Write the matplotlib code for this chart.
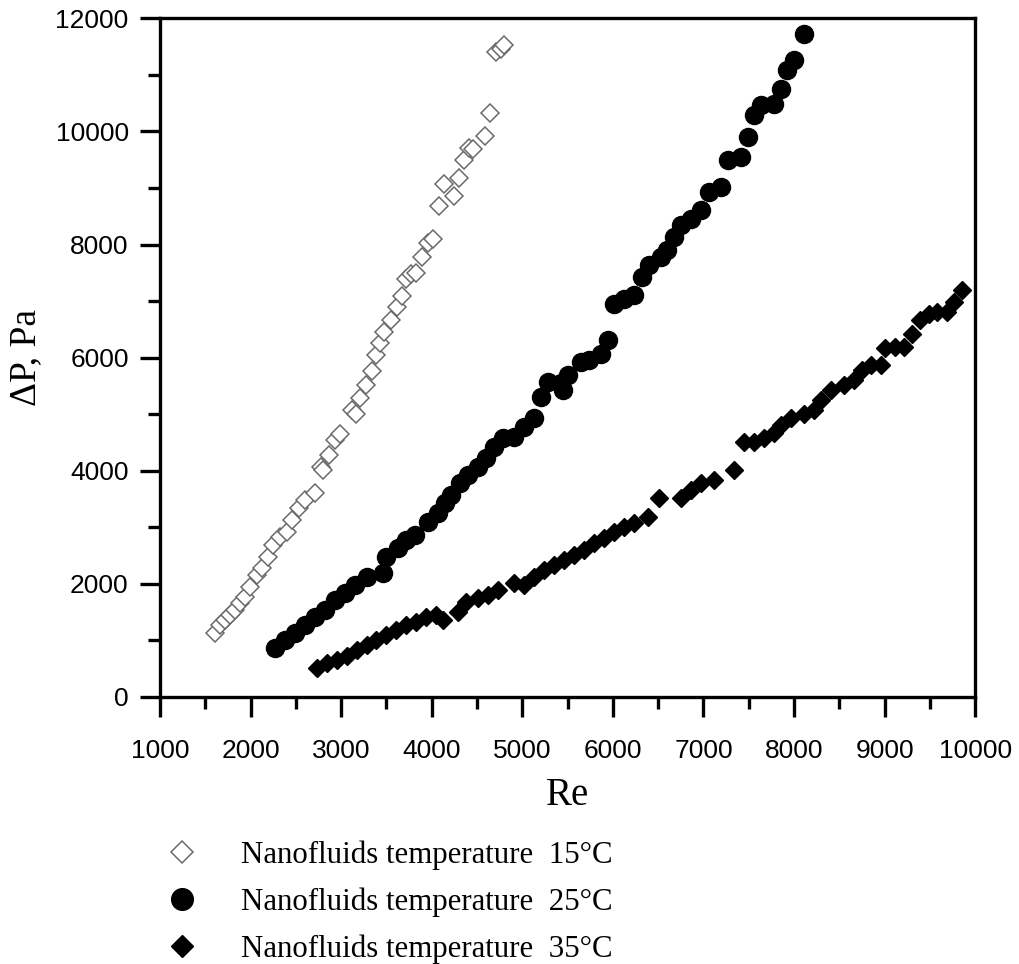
import numpy as np
import matplotlib.pyplot as plt
from matplotlib.ticker import MultipleLocator

# Re and pressure drop (Pa)
re_15 = [1602, 1664, 1719, 1774, 1830, 1885, 1940, 1995, 2068, 2123, 2197, 2252,
         2325, 2399, 2454, 2535, 2601, 2711, 2777, 2803, 2865, 2931, 2986, 3123,
         3159, 3207, 3270, 3336, 3383, 3434, 3478, 3555, 3618, 3673, 3721, 3776,
         3831, 3897, 3963, 4018, 4081, 4136, 4250, 4302, 4360, 4415, 4456, 4591,
         4646, 4712, 4760, 4800]
dp_15 = [1136, 1272, 1361, 1449, 1538, 1656, 1773, 1949, 2156, 2274, 2480, 2686,
         2833, 2921, 3128, 3334, 3481, 3611, 4070, 4012, 4277, 4541, 4648, 5072,
         5001, 5279, 5514, 5767, 6044, 6256, 6456, 6662, 6892, 7087, 7387, 7476,
         7493, 7782, 8029, 8091, 8677, 9066, 8854, 9172, 9490, 9702, 9697, 9920,
         10326, 11404, 11450, 11523]

re_25 = [2270, 2380, 2490, 2600, 2711, 2821, 2931, 3041, 3151, 3280, 3464, 3500,
         3629, 3720, 3812, 3959, 4069, 4143, 4216, 4308, 4400, 4510, 4601, 4693,
         4785, 4913, 5024, 5134, 5207, 5281, 5428, 5446, 5502, 5648, 5740, 5868,
         5942, 6015, 6125, 6236, 6327, 6401, 6530, 6603, 6677, 6750, 6860, 6970,
         7062, 7194, 7267, 7414, 7487, 7560, 7634, 7781, 7854, 7927, 8001, 8111]
dp_25 = [860, 1007, 1125, 1272, 1419, 1538, 1714, 1832, 1979, 2126, 2185, 2480,
         2627, 2775, 2863, 3098, 3246, 3423, 3570, 3777, 3923, 4070, 4218, 4424,
         4571, 4601, 4778, 4925, 5307, 5572, 5548, 5425, 5690, 5926, 5955, 6073,
         6309, 6957, 7045, 7104, 7428, 7635, 7781, 7899, 8135, 8341, 8459, 8606,
         8930, 9018, 9490, 9549, 9903, 10286, 10462, 10492, 10757, 11080, 11257, 11728]

re_35 = [2729, 2839, 2950, 3060, 3170, 3280, 3390, 3500, 3610, 3720, 3831, 3941,
         4051, 4124, 4289, 4381, 4510, 4620, 4730, 4913, 5024, 5134, 5244, 5354,
         5465, 5575, 5685, 5795, 5905, 6015, 6125, 6236, 6383, 6512, 6750, 6860,
         6970, 7117, 7338, 7448, 7560, 7670, 7781, 7854, 7964, 8111, 8221, 8294,
         8404, 8551, 8661, 8753, 8845, 8955, 9009, 9120, 9212, 9304, 9396, 9488,
         9580, 9690, 9763, 9855]
dp_35 = [507, 596, 654, 725, 831, 919, 1007, 1096, 1184, 1272, 1331, 1408,
         1449, 1361, 1508, 1684, 1743, 1803, 1891, 2009, 1979, 2126, 2244, 2333,
         2421, 2510, 2598, 2716, 2804, 2921, 3010, 3069, 3186, 3510, 3510, 3658,
         3777, 3835, 4012, 4512, 4512, 4571, 4659, 4807, 4925, 5012, 5071, 5248,
         5425, 5513, 5602, 5779, 5867, 5867, 6162, 6190, 6190, 6426, 6662, 6780,
         6809, 6809, 6986, 7193]

labels = ['Nanofluids temperature  15°C',
          'Nanofluids temperature  25°C',
          'Nanofluids temperature  35°C']

fig = plt.figure(figsize=(10.19, 9.64), dpi=100)
ax = fig.add_axes([0.157, 0.277, 0.800, 0.704])

ax.plot(re_15, dp_15, 'D', ls='none', ms=9.5, mfc='white', mec='#6a6a6a', mew=1.1,
        label=labels[0])
ax.plot(re_25, dp_25, 'o', ls='none', ms=13, color='black', label=labels[1])
ax.plot(re_35, dp_35, 'D', ls='none', ms=9.5, color='black', label=labels[2])

ax.set_xlim(1000, 10000)
ax.set_ylim(0, 12000)
ax.xaxis.set_major_locator(MultipleLocator(1000))
ax.xaxis.set_minor_locator(MultipleLocator(500))
ax.yaxis.set_major_locator(MultipleLocator(2000))
ax.yaxis.set_minor_locator(MultipleLocator(1000))

for s in ax.spines.values():
    s.set_linewidth(2.4)
ax.tick_params(which='both', direction='out', width=2.4, top=False, right=False,
               labelsize=19)
ax.tick_params(axis='x', which='major', length=14.5, pad=16)
ax.tick_params(axis='y', which='major', length=14.5, pad=8)
ax.tick_params(which='minor', length=8.5)
for t in ax.get_xticklabels() + ax.get_yticklabels():
    t.set_family('Liberation Sans')

ax.set_xlabel('Re', family='Liberation Serif', fontsize=28, labelpad=10)
ax.set_ylabel('ΔP, Pa', family='Liberation Serif', fontsize=27, labelpad=9)

fig.legend(loc='upper left', bbox_to_anchor=(0.162, 0.128), frameon=False,
           prop={'family': 'Liberation Serif', 'size': 22.2},
           handlelength=1.1, handletextpad=1.36, labelspacing=0.57,
           borderaxespad=0, borderpad=0, markerscale=1.2)

fig.savefig('out.png', dpi=100)
